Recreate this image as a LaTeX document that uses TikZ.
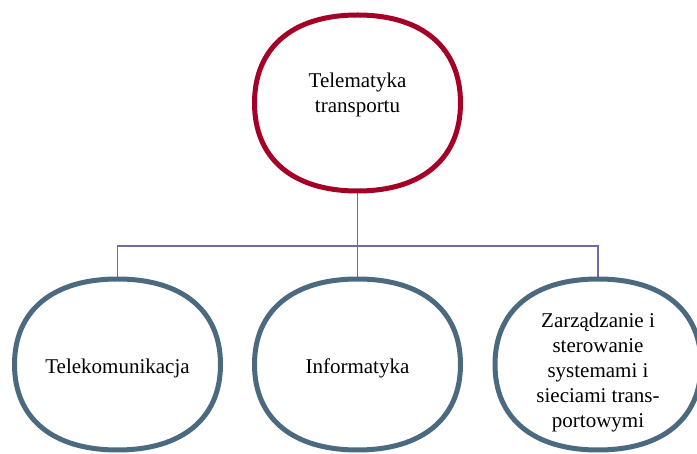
\documentclass[tikz,border=0pt]{standalone}
\usepackage{fontspec}
\usetikzlibrary{calc}
\setmainfont{Liberation Serif}
\definecolor{topred}{HTML}{A50026}
\definecolor{botblue}{HTML}{4B6A80}
\definecolor{conncol}{HTML}{6E6AA6}
\tikzset{
  blob/.style={draw=none, inner sep=0pt, outer sep=0pt,
    minimum width=206pt, minimum height=171pt},
  topblob/.style={blob, minimum height=176pt},
  blobline/.style={line width=5pt, fill=white},
  conn/.style={draw=conncol, line width=1.8pt},
  txt/.style={align=center, font=\fontsize{21}{25}\selectfont, inner sep=0pt},
}
\newcommand\myblob[2]{%
  \draw[blobline, draw=#2] (#1.north)
    .. controls ($(#1.north)!0.63!(#1.north west)$) and ($(#1.west)!0.63!(#1.north west)$) .. (#1.west)
    .. controls ($(#1.west)!0.63!(#1.south west)$) and ($(#1.south)!0.63!(#1.south west)$) .. (#1.south)
    .. controls ($(#1.south)!0.63!(#1.south east)$) and ($(#1.east)!0.63!(#1.south east)$) .. (#1.east)
    .. controls ($(#1.east)!0.63!(#1.north east)$) and ($(#1.north)!0.63!(#1.north east)$) .. (#1.north)
    -- cycle;}
\begin{document}
\begin{tikzpicture}[x=1pt, y=-1pt]
\useasboundingbox (0,0) rectangle (697,454);
\clip (0,0) rectangle (697,454);
\coordinate (bus) at (357.5,246);
\node[topblob] (top) at (357.5,103) {};
\node[blob] (left) at (117.5,364.5) {};
\node[blob] (mid) at (357.5,364.5) {};
\node[blob] (right) at (598,364.5) {};
\draw[conn] (top.south) -- (bus);
\draw[conn] (bus) -| (left.north);
\draw[conn] (bus) -| (right.north);
\draw[conn] (bus) -- (mid.north);
\myblob{top}{topred}
\myblob{left}{botblue}
\myblob{mid}{botblue}
\myblob{right}{botblue}
\node[txt] (ttop) at (357.5,95) {Telematyka\\transportu};
\node[txt] (tleft) at (117.5,368) {Telekomunikacja};
\node[txt] (tmid) at (357.5,368) {Informatyka};
\node[txt] (tright) at (598,372) {Zarządzanie i\\sterowanie\\systemami i\\sieciami trans-\\portowymi};
\end{tikzpicture}
\end{document}
